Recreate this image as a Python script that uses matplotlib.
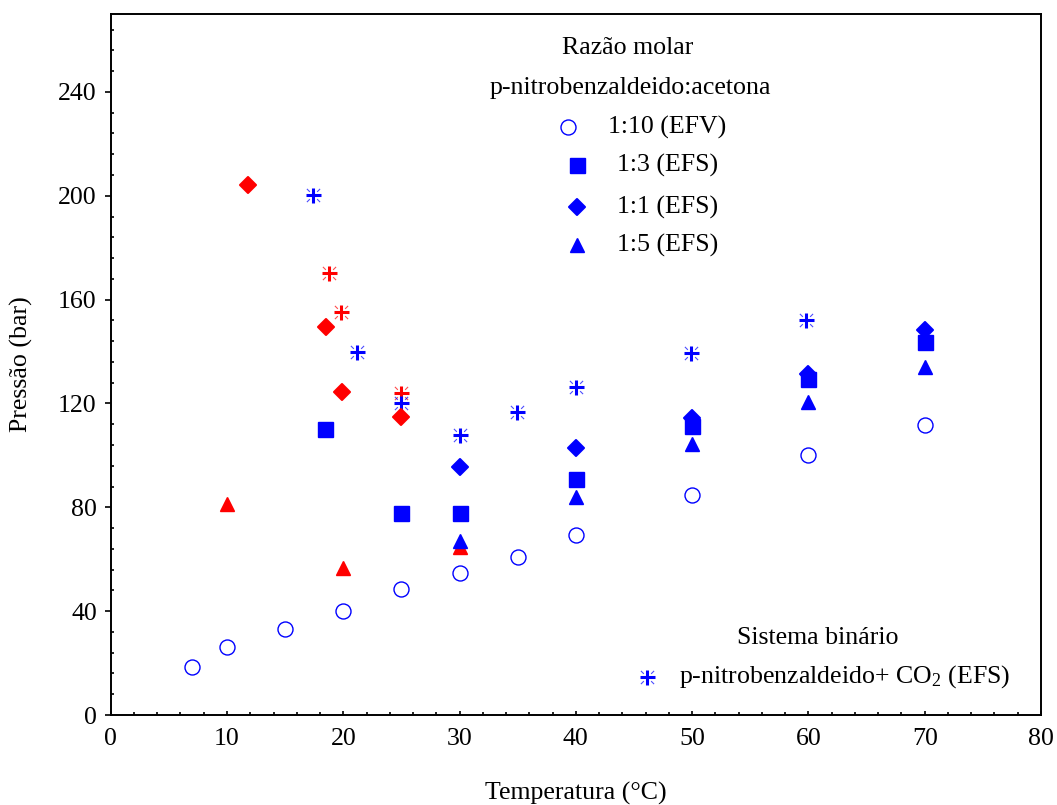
import matplotlib
matplotlib.use("Agg")
import matplotlib.pyplot as plt
from matplotlib.ticker import MultipleLocator
from matplotlib.markers import MarkerStyle
from matplotlib.path import Path
import numpy as np

plt.rcParams['font.family'] = ['Liberation Serif', 'DejaVu Serif']
plt.rcParams['mathtext.fontset'] = 'custom'
plt.rcParams['mathtext.rm'] = 'Liberation Serif'
plt.rcParams['mathtext.it'] = 'Liberation Serif:italic'

# ---- data ----
t_110 = [7, 10, 15, 20, 25, 30, 35, 40, 50, 60, 70]
p_110 = [18.5, 26.2, 33.1, 40.0, 48.5, 54.7, 60.8, 69.3, 84.7, 100.1, 111.7]

t_13 = [18.4, 25, 30, 40, 50, 60, 70]
p_13 = [110.1, 77.8, 77.8, 90.9, 111.2, 129.6, 143.8]

t_11 = [30, 40, 50, 60, 70]
p_11 = [95.6, 102.7, 114.4, 131.3, 148.2]

t_15 = [30, 40, 50, 60, 70]
p_15 = [67.1, 84.1, 104.3, 120.5, 134.0]

t_red_d = [11.8, 18.5, 19.9, 25.0]
p_red_d = [204.3, 149.5, 124.3, 114.9]

t_red_p = [18.8, 19.8, 25.0]
p_red_p = [170.1, 155.3, 124.1]

t_red_t = [10, 20, 30]
p_red_t = [81.2, 56.6, 64.7]

t_bin = [17.4, 21.2, 25, 30, 34.9, 40, 49.9, 59.8]
p_bin = [200.1, 139.9, 120.0, 107.8, 116.8, 126.3, 139.3, 152.1]

x_ticks = [0, 10, 20, 30, 40, 50, 60, 70, 80]
y_ticks = [0, 40, 80, 120, 160, 200, 240]

BLUE = '#0000ff'
RED = '#ff0000'
W, H = 1057, 805

fig = plt.figure(figsize=(W / 100, H / 100), dpi=100)
ax = fig.add_axes([110.7 / W, 1 - 715 / H, (1041 - 110.7) / W, (715 - 14) / H])

# diagonal corner pieces of the asterisk marker
diag_verts = []
diag_codes = []
for sx in (-1, 1):
    for sy in (-1, 1):
        diag_verts += [(0.55 * sx, 0.55 * sy), (1.0 * sx, 1.0 * sy)]
        diag_codes += [Path.MOVETO, Path.LINETO]
diag_marker = Path(diag_verts, diag_codes)

diamond = MarkerStyle('D', joinstyle='round')
DMS = 8.4


def star(xs, ys, color, z, tf=None, clip=True):
    kw = {}
    if tf is not None:
        kw['transform'] = tf
    ax.plot(xs, ys, ls='none', marker='+', ms=10.8, mew=2.2, color=color,
            zorder=z, clip_on=clip, **kw)
    ax.plot(xs, ys, ls='none', marker=diag_marker, ms=9.5, mew=0.8,
            color=color, alpha=0.7, zorder=z, clip_on=clip, **kw)


# red series
ax.plot(t_red_t, p_red_t, ls='none', marker='^', ms=10.5, color=RED, mec=RED, zorder=2)
star(t_red_p, p_red_p, RED, 2)

# blue series
ax.plot(t_110, p_110, ls='none', marker='o', ms=10.8, mfc='none', mec=BLUE, mew=1.0, zorder=3)
ax.plot(t_13, p_13, ls='none', marker='s', ms=10.8, color=BLUE, zorder=3)
ax.plot(t_15, p_15, ls='none', marker='^', ms=10.5, color=BLUE, zorder=3)
ax.plot(t_11, p_11, ls='none', marker=diamond, ms=DMS, mew=1.5, color=BLUE, zorder=3)
star(t_bin, p_bin, BLUE, 3)
ax.plot(t_red_d, p_red_d, ls='none', marker=diamond, ms=DMS, mew=1.5, color=RED, zorder=4)

ax.set_xlim(0, 80)
ax.set_ylim(0, 270)
ax.set_xticks(x_ticks)
ax.set_yticks(y_ticks)
ax.xaxis.set_minor_locator(MultipleLocator(2))
ax.yaxis.set_minor_locator(MultipleLocator(8))
fs = 18.6
ax.tick_params(axis='x', which='major', direction='in', length=3, width=1.2,
               labelsize=fs, pad=9)
ax.tick_params(axis='x', which='minor', direction='in', length=2, width=1.2)
ax.tick_params(axis='y', which='major', direction='out', length=4, width=1.2,
               labelsize=fs, pad=6)
ax.tick_params(axis='y', which='minor', direction='in', length=2, width=1.2)
for s in ax.spines.values():
    s.set_linewidth(1.4)

ax.set_xlabel('Temperatura (°C)', fontsize=fs)
ax.xaxis.set_label_coords(0.5, -0.095)
ax.set_ylabel('Pressão (bar)', fontsize=fs)
ax.yaxis.set_label_coords(-0.084, 0.5)

# ---- legend (manual) ----
def fx(px):
    return px / W


def fy(py):
    return 1 - py / H


fig.text(fx(628), fy(48), 'Razão molar', ha='center', va='center', fontsize=fs)
fig.text(fx(630), fy(88), 'p-nitrobenzaldeido:acetona', ha='center', va='center', fontsize=fs)

leg_rows = [
    (568, 127, dict(marker='o', ms=10.8, mfc='none', mec=BLUE, mew=1.0), 608, '1:10 (EFV)'),
    (577, 165, dict(marker='s', ms=10.8, color=BLUE), 617, '1:3 (EFS)'),
    (577, 207, dict(marker=diamond, ms=DMS, mew=1.5, color=BLUE), 617, '1:1 (EFS)'),
    (577, 245, dict(marker='^', ms=10.5, color=BLUE), 617, '1:5 (EFS)'),
]
for mx, my, mkw, tx, label in leg_rows:
    ax.plot([fx(mx)], [fy(my)], ls='none', transform=fig.transFigure, clip_on=False, **mkw)
    fig.text(fx(tx), fy(my), label, ha='left', va='center', fontsize=fs)

fig.text(fx(818), fy(638), 'Sistema binário', ha='center', va='center', fontsize=fs)
star([fx(647)], [fy(677)], BLUE, 5, tf=fig.transFigure, clip=False)
fig.text(fx(679), fy(677), r'p-nitrobenzaldeido+ CO$_2$ (EFS)', ha='left', va='center', fontsize=fs)

fig.savefig('out.png', dpi=100)
